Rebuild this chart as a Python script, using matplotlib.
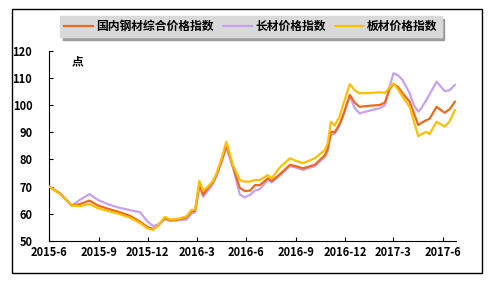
import numpy as np
import pandas as pd
import matplotlib
matplotlib.use('Agg')
import matplotlib.pyplot as plt
from matplotlib.patches import Rectangle

plt.rcParams['font.family'] = ['Noto Sans CJK SC', 'DejaVu Sans']

# ---- data ----
dates = ['2015-06-01', '2015-06-21', '2015-07-13', '2015-07-28', '2015-08-15', '2015-08-31',
         '2015-09-18', '2015-10-07', '2015-10-29', '2015-11-17', '2015-12-01', '2015-12-11',
         '2015-12-20', '2016-01-02', '2016-01-11', '2016-01-26', '2016-02-11', '2016-02-20',
         '2016-02-27', '2016-03-06', '2016-03-13', '2016-03-22', '2016-03-31', '2016-04-07',
         '2016-04-17', '2016-04-25', '2016-05-07', '2016-05-20', '2016-05-29', '2016-06-08',
         '2016-06-17', '2016-06-26', '2016-07-11', '2016-07-18', '2016-08-02', '2016-08-21',
         '2016-09-01', '2016-09-14', '2016-10-06', '2016-10-25', '2016-10-30', '2016-11-05',
         '2016-11-12', '2016-11-21', '2016-11-29', '2016-12-10', '2016-12-19', '2016-12-28',
         '2017-01-16', '2017-02-04', '2017-02-13', '2017-02-22', '2017-03-01', '2017-03-09',
         '2017-03-18', '2017-03-31', '2017-04-08', '2017-04-16', '2017-04-22', '2017-05-01',
         '2017-05-07', '2017-05-20', '2017-06-04', '2017-06-13', '2017-06-23']

composite = [70, 67.5, 63, 63.5, 64.8, 63,
             61.8, 60.7, 59.2, 57, 55, 54.3,
             55.5, 58.3, 57.6, 57.8, 58.6, 60.8,
             61, 71, 67, 69.5, 71.5, 74.5,
             80, 85.3, 77.5, 69.5, 68.3, 68.5,
             70.5, 70.5, 73, 72, 74.5, 78,
             77.5, 76.7, 78, 81.6, 84, 90.2,
             90, 93, 97, 103.8, 101, 99.4,
             99.8, 100.1, 101, 106, 107.8, 106.8,
             104.4, 101.3, 97, 92.7, 93.5, 94.5,
             95, 99.4, 97.2, 98.5, 101.3]

long_prod = [70, 67.5, 63, 65, 67.2, 65,
             63.5, 62.3, 61.3, 60.5, 57, 55.4,
             56, 58, 57.3, 57.5, 57.8, 60,
             60.5, 70, 66.2, 68.5, 71, 74,
             79.5, 84.5, 77.3, 67, 66, 66.9,
             68.5, 69, 72.5, 71.5, 74, 77.5,
             77, 76.1, 77.5, 81, 83, 89,
             89.5, 92.5, 97, 103.5, 99, 97,
             98, 98.9, 100, 107, 111.8, 111.1,
             109.3, 104.4, 100, 97.6, 99, 101.9,
             104, 108.7, 105.2, 105.5, 107.5]

flat_prod = [70, 67.3, 63, 62.8, 63.5, 62,
             61, 60, 58.5, 56.5, 54.5, 54,
             55.5, 58.8, 57.8, 58, 59, 61.3,
             61.5, 72.1, 68.5, 70, 72, 75,
             81, 86.5, 78, 72.4, 71.8, 71.8,
             72.4, 72.4, 74.2, 73, 77, 80.4,
             79.5, 78.6, 80.4, 83.5, 86, 93.9,
             92.5, 95.8, 101, 107.8, 105.5, 104.4,
             104.5, 104.8, 104.5, 106.5, 108.1, 105.9,
             103.1, 99.4, 94, 88.6, 89.3, 90.2,
             89.4, 93.9, 92.1, 94, 98.2]

names = ['国内钢材综合价格指数', '长材价格指数', '板材价格指数']
tick_labels = ['2015-6', '2015-9', '2015-12', '2016-3', '2016-6',
               '2016-9', '2016-12', '2017-3', '2017-6']

x = pd.to_datetime(dates)
ticks = pd.to_datetime([t + '-1' for t in tick_labels], format='%Y-%m-%d')

fig = plt.figure(figsize=(4.97, 2.83), dpi=100)
fig.patches.append(Rectangle((12 / 497, 1 - 273 / 283), 470 / 497, 264 / 283,
                             transform=fig.transFigure, fill=False,
                             edgecolor='black', linewidth=1.0))

ax = fig.add_axes([49 / 497, 1 - 240.7 / 283, 407 / 497, 189.7 / 283])
ax.plot(x, long_prod, color='#C8A0F8', lw=1.6, label=names[1], zorder=2)
ax.plot(x, composite, color='#EE6A1A', lw=1.6, label=names[0], zorder=3)
ax.plot(x, flat_prod, color='#FFC000', lw=1.6, label=names[2], zorder=4)

ax.set_ylim(50, 120)
ax.set_yticks(np.arange(50, 121, 10))
ax.set_xlim(pd.Timestamp('2015-06-01'), pd.Timestamp('2017-06-25'))
ax.set_xticks(ticks)
ax.set_xticklabels(tick_labels)
for s in ['top', 'right']:
    ax.spines[s].set_visible(False)
ax.tick_params(axis='x', direction='in', length=3, width=0.8, labelsize=8, pad=4)
ax.tick_params(axis='y', direction='in', length=3, width=0.8, labelsize=8, pad=12)
plt.setp(ax.get_xticklabels() + ax.get_yticklabels(), fontweight='bold')

ax.text(0.055, 0.975, '点', transform=ax.transAxes, fontsize=8.5,
        fontweight='bold', va='top', ha='left')

h, l = ax.get_legend_handles_labels()
order = [1, 0, 2]
leg = ax.legend([h[i] for i in order], [l[i] for i in order], ncol=3,
                loc='center', bbox_to_anchor=(0.505, 0.906),
                bbox_transform=fig.transFigure, fancybox=False,
                shadow={'color': '#8C8C8C', 'alpha': 0.8},
                facecolor='#D9D9D9', edgecolor='#D9D9D9', framealpha=1,
                prop={'size': 8.5, 'weight': 'bold'}, handlelength=2.4,
                columnspacing=0.8, handletextpad=0.3, borderpad=0.35)

fig.savefig('out.png', dpi=100)
